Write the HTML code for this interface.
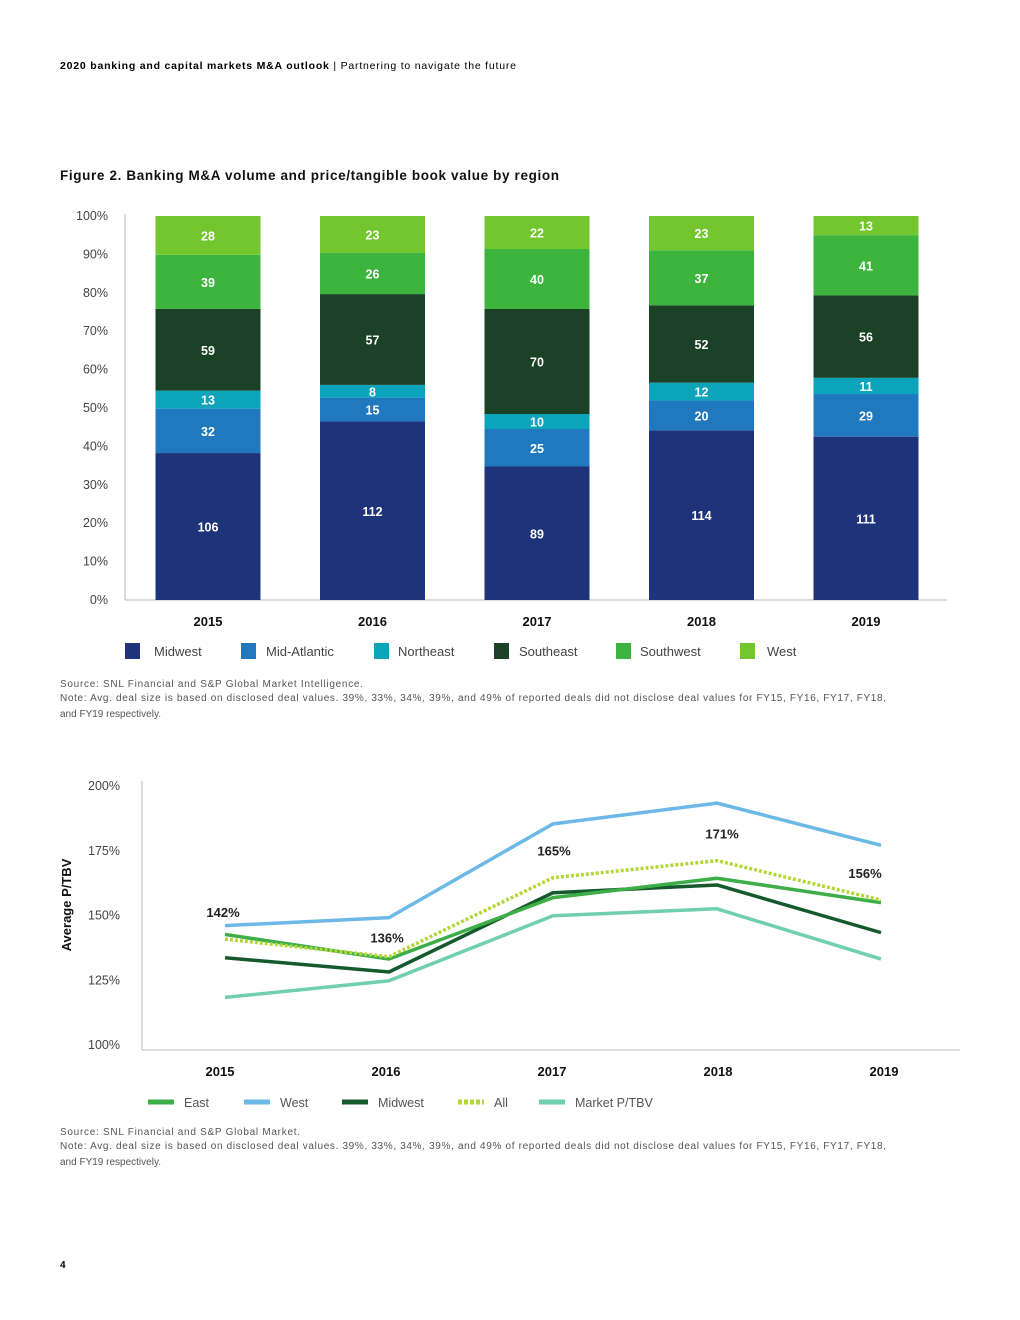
<!DOCTYPE html>
<html><head><meta charset="utf-8"><style>
html,body{margin:0;padding:0;background:#fff;}
svg{display:block;font-family:"Liberation Sans",sans-serif;}
</style></head><body>
<svg id="page" width="1020" height="1320" viewBox="0 0 1020 1320">
<text x="60" y="69" font-size="10.5" fill="#000" textLength="456"><tspan font-weight="bold">2020 banking and capital markets M&amp;A outlook</tspan> | Partnering to navigate the future</text>
<text x="60" y="180" font-size="13.5" font-weight="bold" fill="#111" textLength="499">Figure 2. Banking M&amp;A volume and price/tangible book value by region</text>
<g id="bar-chart"></g>
<g id="bar-legend"></g>
<text x="60" y="687" font-size="10" fill="#555" textLength="303">Source: SNL Financial and S&amp;P Global Market Intelligence.</text>
<text x="60" y="701" font-size="10" fill="#555" textLength="826">Note: Avg. deal size is based on disclosed deal values. 39%, 33%, 34%, 39%, and 49% of reported deals did not disclose deal values for FY15, FY16, FY17, FY18,</text>
<text x="60" y="717" font-size="10" fill="#555">and FY19 respectively.</text>
<g id="line-chart"></g>
<g id="line-legend"></g>
<text x="60" y="1135" font-size="10" fill="#555" textLength="240">Source: SNL Financial and S&amp;P Global Market.</text>
<text x="60" y="1149" font-size="10" fill="#555" textLength="826">Note: Avg. deal size is based on disclosed deal values. 39%, 33%, 34%, 39%, and 49% of reported deals did not disclose deal values for FY15, FY16, FY17, FY18,</text>
<text x="60" y="1165" font-size="10" fill="#555">and FY19 respectively.</text>
<text x="60" y="1268" font-size="10" font-weight="bold" fill="#000">4</text>
</svg>
<script>
const years = ["2015","2016","2017","2018","2019"];
const regions = ["Midwest","Mid-Atlantic","Northeast","Southeast","Southwest","West"];
const midwest = [106,112,89,114,111];
const midAtlantic = [32,15,25,20,29];
const northeast = [13,8,10,12,11];
const southeast = [59,57,70,52,56];
const southwest = [39,26,40,37,41];
const west = [28,23,22,23,13];
const pctTicks = [0,10,20,30,40,50,60,70,80,90,100];

const lineYears = ["2015","2016","2017","2018","2019"];
const lineSeriesNames = ["East","West","Midwest","All","Market P/TBV"];
const eastVals = [142.3,132.8,156.5,164,154.6];
const westVals = [145.7,148.8,185,193,176.7];
const midwestVals = [133.3,127.8,158.4,161.4,143];
const allVals = [140.5,133.7,164.2,170.8,155.6];
const marketVals = [118,124.4,149.5,152.2,132.8];
const allLabels = ["142%","136%","165%","171%","156%"];
const lineTicks = [100,125,150,175,200];

const NS="http://www.w3.org/2000/svg";
function mk(parent,tag,attrs,txt){const e=document.createElementNS(NS,tag);for(const k in attrs)e.setAttribute(k,attrs[k]);if(txt!=null)e.textContent=txt;parent.appendChild(e);return e;}

// ---- bar chart ----
const bc=document.getElementById('bar-chart');
const bY0=600,bY1=216,bX0=125,bX1=947;
const yPct=p=>bY0-(bY0-bY1)*p/100;
const xBand=i=>208+164.5*i;
const barW=105;
const colors=["#1f337a","#2078bf","#0ba4bb","#1b4227","#3db43e","#74c62f"];
const series=[midwest,midAtlantic,northeast,southeast,southwest,west];
pctTicks.forEach(t=>{
  const tx=mk(bc,'text',{x:108,y:yPct(t)+4,'font-size':12.5,fill:'#444','text-anchor':'end'},t+'%');
  
  
});
const ax=mk(bc,'line',{x1:bX0,y1:214,x2:bX0,y2:bY0,stroke:'#bbb'});


const bx=mk(bc,'line',{x1:bX0,y1:bY0,x2:bX1,y2:bY0,stroke:'#bbb'});


years.forEach((yr,i)=>{
  let total=0;series.forEach(s=>total+=s[i]);
  let cum=0;
  series.forEach((s,j)=>{
    const v=s[i];
    const yTop=yPct((cum+v)/total*100), yBot=yPct(cum/total*100);
    cum+=v;
    const r=mk(bc,'rect',{x:xBand(i)-barW/2,y:yTop,width:barW,height:yBot-yTop,fill:colors[j]});
    
    
    const l=mk(bc,'text',{x:xBand(i),y:(yTop+yBot)/2+5,'font-size':12.5,'font-weight':'bold',fill:'#fff','text-anchor':'middle'},v);
    
    
  });
  const xl=mk(bc,'text',{x:xBand(i),y:626,'font-size':13,'font-weight':'bold',fill:'#111','text-anchor':'middle'},yr);
  
  
});
const bl=document.getElementById('bar-legend');
const legX=[125,241,374,494,616,740];
const legTX=[154,266,398,519,640,767];
regions.forEach((r,j)=>{
  const g=mk(bl,'g',{});
  
  
  mk(g,'rect',{x:legX[j],y:643,width:15,height:16,fill:colors[j]});
  mk(g,'text',{x:legTX[j],y:656,'font-size':13,fill:'#444'},r);
});

// ---- line chart ----
const lc=document.getElementById('line-chart');
const lY=v=>1044-(v-100)*2.59;
const lX=i=>225+i*164;
lineTicks.forEach(t=>{
  const tx=mk(lc,'text',{x:120,y:lY(t)+5,'font-size':12.5,fill:'#444','text-anchor':'end'},t+'%');
  
  
});
const la=mk(lc,'line',{x1:142,y1:781,x2:142,y2:1050,stroke:'#bbb'});


const lb=mk(lc,'line',{x1:142,y1:1050,x2:960,y2:1050,stroke:'#bbb'});


const yt=mk(lc,'text',{x:0,y:0,'font-size':13,'font-weight':'bold',fill:'#111','text-anchor':'middle',transform:'translate(71,905) rotate(-90)'},'Average P/TBV');


lineYears.forEach((yr,i)=>{
  const t=mk(lc,'text',{x:220+166*i,y:1076,'font-size':13,'font-weight':'bold',fill:'#111','text-anchor':'middle'},yr);
  
  
});
const lineData=[eastVals,westVals,midwestVals,allVals,marketVals];
const lineColors=["#3dae48","#6cb8e6","#145a2c","#b5d637","#6fcfb0"];
const drawOrder=[1,4,2,0,3];
drawOrder.forEach(k=>{
  const pts=lineData[k].map((v,i)=>lX(i)+','+lY(v)).join(' ');
  const attrs={points:pts,fill:'none',stroke:lineColors[k],'stroke-width':3.5,'stroke-linejoin':'round'};
  if(k===3){attrs['stroke-dasharray']='3,2';}
  const p=mk(lc,'polyline',attrs);
  
  
});
allLabels.forEach((s,i)=>{
  const dx=[-2,-2,1,5,-16][i];
  const t=mk(lc,'text',{x:lX(i)+dx,y:lY(allVals[i])-22+(i==1?8:0),'font-size':13,'font-weight':'bold',fill:'#222','text-anchor':'middle'},s);
  
  
});
const ll=document.getElementById('line-legend');
const llX=[148,244,342,458,539];
lineSeriesNames.forEach((n,k)=>{
  const g=mk(ll,'g',{});
  
  
  const a={x1:llX[k],y1:1102,x2:llX[k]+26,y2:1102,stroke:lineColors[k],'stroke-width':5};
  if(k===3)a['stroke-dasharray']='4,2';
  mk(g,'line',a);
  mk(g,'text',{x:llX[k]+36,y:1107,'font-size':12.5,fill:'#555'},n);
});
</script>
</body></html>
